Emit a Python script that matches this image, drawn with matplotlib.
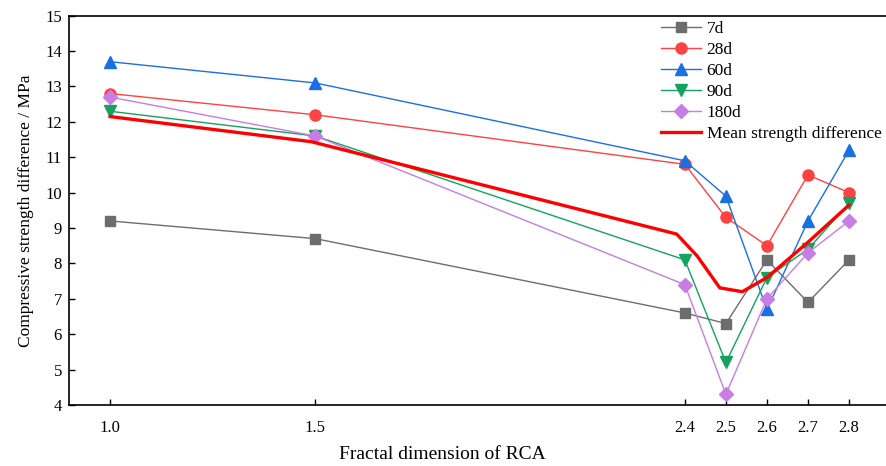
import matplotlib.pyplot as plt

plt.rcParams['font.family'] = ['Liberation Serif', 'DejaVu Serif']

# fractal dimension of the recycled aggregate
fd = [1.0, 1.5, 2.4, 2.5, 2.6, 2.7, 2.8]

# strength difference per curing age (MPa)
d7 = [9.2, 8.7, 6.6, 6.3, 8.1, 6.9, 8.1]
d28 = [12.8, 12.2, 10.8, 9.3, 8.5, 10.5, 10.0]
d60 = [13.7, 13.1, 10.9, 9.9, 6.7, 9.2, 11.2]
d90 = [12.3, 11.6, 8.1, 5.2, 7.6, 8.4, 9.7]
d180 = [12.7, 11.6, 7.4, 4.3, 7.0, 8.3, 9.2]

# mean strength difference curve
mean_x = [1.0, 1.49, 2.38, 2.43, 2.485, 2.54, 2.6, 2.7, 2.8]
mean_y = [12.15, 11.44, 8.83, 8.21, 7.31, 7.2, 7.6, 8.6, 9.65]

fig = plt.figure(figsize=(8.86, 4.66), dpi=100)
ax = fig.add_axes([0.0779, 0.131, 0.9221, 0.8353])

series = [
    (d7, '7d', '#6d6d6d', 's', 7),
    (d28, '28d', '#ff4242', 'o', 8),
    (d60, '60d', '#1a6fe3', '^', 8),
    (d90, '90d', '#13a35f', 'v', 8),
    (d180, '180d', '#c77de3', 'D', 7),
]
for vals, lab, col, mk, ms in series:
    ax.plot(fd, vals, color=col, marker=mk, markersize=ms, lw=1, label=lab)

ax.plot(mean_x, mean_y, color='#ff0000', lw=2.4, label='Mean strength difference')

ax.set_xlim(0.9, 2.89)
ax.set_ylim(4, 15)
ax.set_xticks(fd)
ax.set_xticklabels(['1.0', '1.5', '2.4', '2.5', '2.6', '2.7', '2.8'])
ax.set_yticks(range(4, 16))
ax.tick_params(direction='in', labelsize=12, length=4, width=1)
ax.tick_params(axis='x', pad=11)
ax.tick_params(axis='y', pad=5)
ax.spines['right'].set_visible(False)
for s in ['left', 'bottom', 'top']:
    ax.spines[s].set_linewidth(1.2)

ax.set_xlabel('Fractal dimension of RCA', fontsize=14)
ax.xaxis.set_label_coords(0.457, -0.105)
ax.set_ylabel('Compressive strength difference / MPa', fontsize=12.5, labelpad=8)

ax.legend(loc='upper right', bbox_to_anchor=(1.005, 1.008), frameon=False,
          fontsize=12.5, handlelength=2.3, handletextpad=0.3,
          labelspacing=0.28, borderaxespad=0.1)

fig.savefig('out.png', dpi=100)
